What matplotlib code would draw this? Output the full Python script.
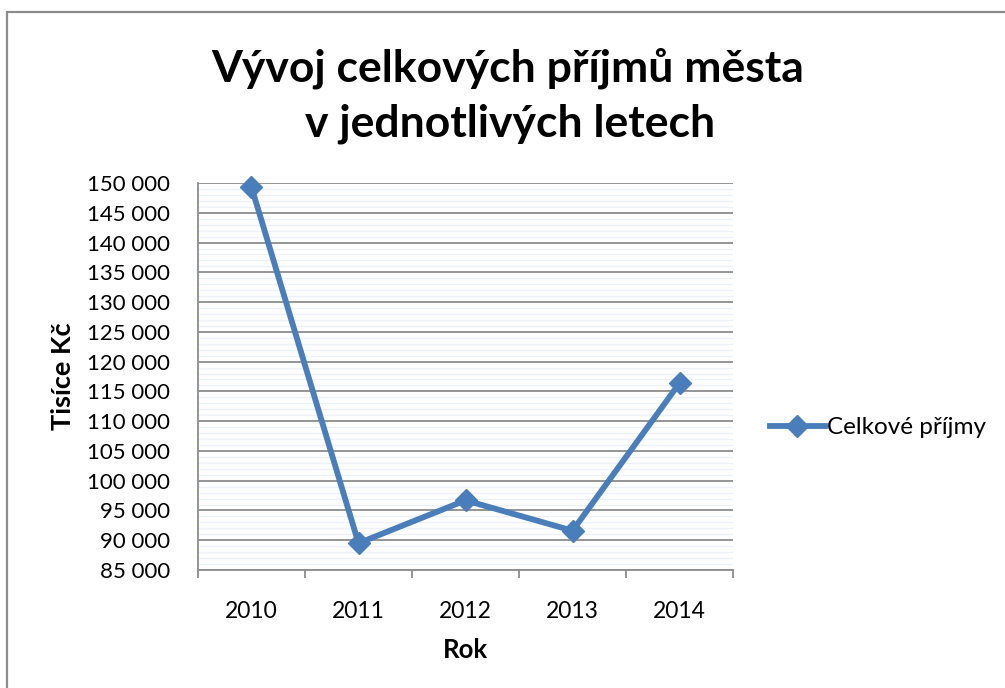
import matplotlib.pyplot as plt
import matplotlib.ticker as mticker
from matplotlib.patches import Rectangle
import numpy as np

plt.rcParams['font.family'] = ['Lato', 'DejaVu Sans']

# data
years = ['2010', '2011', '2012', '2013', '2014']
prijmy = [149300, 89500, 96700, 91600, 116400]

title_lines = ['Vývoj celkových příjmů města', 'v jednotlivých letech']
series_label = 'Celkové příjmy'
line_color = '#4A7EBB'

fig = plt.figure(figsize=(10.05, 6.88), dpi=100)
ax = fig.add_axes([0.197, 0.1715, 0.5324, 0.5625])

# outer chart border (right/bottom run off the picture, like the original)
fig.patches.append(Rectangle((7 / 1005, -0.05), 1.2, 1 - 12 / 688 + 0.05,
                             transform=fig.transFigure, fill=False,
                             edgecolor='#8c8c8c', linewidth=1.6))

x = np.arange(len(years))
ax.plot(x, prijmy, color=line_color, linewidth=4.2, marker='D',
        markersize=11, markeredgecolor=line_color, label=series_label,
        zorder=5, clip_on=False)

# y axis
ax.set_ylim(85000, 150000)
ax.yaxis.set_major_locator(mticker.MultipleLocator(5000))
ax.yaxis.set_minor_locator(mticker.MultipleLocator(1000))
ax.yaxis.set_major_formatter(
    mticker.FuncFormatter(lambda v, p: f'{v:,.0f}'.replace(',', ' ')))
ax.grid(axis='y', which='major', color='#8c8c8c', linewidth=1.3)
ax.grid(axis='y', which='minor', color='#edf1f7', linewidth=1.0)
ax.set_axisbelow(True)
ax.tick_params(axis='y', which='both', length=0, pad=20, labelsize=16)

# x axis (categories, tick marks between them)
ax.set_xlim(-0.5, len(years) - 0.5)
ax.set_xticks(x)
ax.set_xticklabels(years)
ax.set_xticks(np.arange(-0.5, len(years)), minor=True)
ax.tick_params(axis='x', which='major', length=0, pad=22, labelsize=16.5)
ax.tick_params(axis='x', which='minor', length=6, width=1.3,
               color='#8c8c8c', direction='out')

for s in ['top', 'right']:
    ax.spines[s].set_visible(False)
for s in ['left', 'bottom']:
    ax.spines[s].set_color('#8c8c8c')
    ax.spines[s].set_linewidth(1.3)

ax.set_xlabel('Rok', fontsize=18.5, fontweight='bold', labelpad=12)
ax.set_ylabel('Tisíce Kč', fontsize=19.5, fontweight='bold', labelpad=9)

fig.text(0.505, 1 - 68 / 688, title_lines[0], ha='center', va='center',
         fontsize=32, fontweight='bold')
fig.text(0.508, 1 - 124 / 688, title_lines[1], ha='center', va='center',
         fontsize=32, fontweight='bold')

ax.legend(loc='center left', bbox_to_anchor=(1.05, 0.367), frameon=False,
          fontsize=17.5, handlelength=2.3, handletextpad=0.05,
          borderaxespad=0)

fig.savefig('out.png', dpi=100)
